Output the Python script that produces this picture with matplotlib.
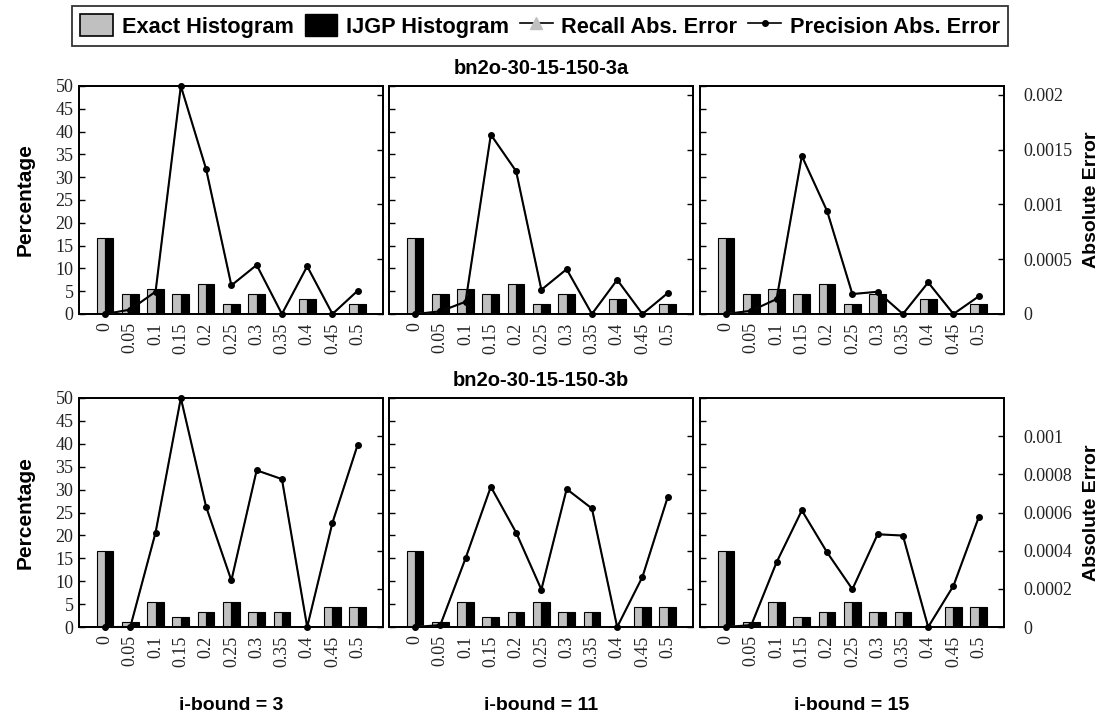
import matplotlib
matplotlib.use("Agg")
import matplotlib.pyplot as plt
from matplotlib.patches import Patch
from matplotlib.lines import Line2D

# Error-threshold bins on the x axis
bins = ["0", "0.05", "0.1", "0.15", "0.2", "0.25", "0.3", "0.35", "0.4", "0.45", "0.5"]

# Histogram percentages per network (exact and IJGP coincide)
exact_3a = [16.67, 4.44, 5.56, 4.44, 6.67, 2.22, 4.44, 0.0, 3.33, 0.0, 2.22]
ijgp_3a = [16.67, 4.44, 5.56, 4.44, 6.67, 2.22, 4.44, 0.0, 3.33, 0.0, 2.22]
exact_3b = [16.67, 1.11, 5.56, 2.22, 3.33, 5.56, 3.33, 3.33, 0.0, 4.44, 4.44]
ijgp_3b = [16.67, 1.11, 5.56, 2.22, 3.33, 5.56, 3.33, 3.33, 0.0, 4.44, 4.44]

# Precision absolute error, one list per i-bound
prec_3a_i3 = [0.0, 0.00004, 0.000204, 0.00208, 0.001322, 0.000261, 0.000447, 0.0, 0.000435, 0.0, 0.000213]
prec_3a_i11 = [0.0, 0.000024, 0.000112, 0.001636, 0.001303, 0.000221, 0.000409, 0.0, 0.000312, 0.0, 0.000191]
prec_3a_i15 = [0.0, 0.00003, 0.000136, 0.001442, 0.000939, 0.000182, 0.000203, 0.0, 0.000288, 0.0, 0.000161]
prec_3b_i3 = [0.0, 0.0, 0.000495, 0.0012, 0.00063, 0.000244, 0.000821, 0.000775, 0.0, 0.000547, 0.000956]
prec_3b_i11 = [0.0, 0.00001, 0.00036, 0.000735, 0.000495, 0.000196, 0.000723, 0.000621, 0.0, 0.000263, 0.000681]
prec_3b_i15 = [0.0, 0.00001, 0.000339, 0.000611, 0.000391, 0.000198, 0.000486, 0.000479, 0.0, 0.000216, 0.000575]

# Recall absolute error follows precision exactly here
recall_3a = [prec_3a_i3, prec_3a_i11, prec_3a_i15]
recall_3b = [prec_3b_i3, prec_3b_i11, prec_3b_i15]

networks = ["bn2o-30-15-150-3a", "bn2o-30-15-150-3b"]
ibounds = ["i-bound = 3", "i-bound = 11", "i-bound = 15"]

rows = [
    dict(exact=exact_3a, ijgp=ijgp_3a, prec=[prec_3a_i3, prec_3a_i11, prec_3a_i15],
         recall=recall_3a, emax=0.00208,
         eticks=[0, 0.0005, 0.001, 0.0015, 0.002],
         elabels=["0", "0.0005", "0.001", "0.0015", "0.002"]),
    dict(exact=exact_3b, ijgp=ijgp_3b, prec=[prec_3b_i3, prec_3b_i11, prec_3b_i15],
         recall=recall_3b, emax=0.0012,
         eticks=[0, 0.0002, 0.0004, 0.0006, 0.0008, 0.001],
         elabels=["0", "0.0002", "0.0004", "0.0006", "0.0008", "0.001"]),
]

plt.rcParams["font.family"] = "serif"
plt.rcParams["font.serif"] = ["Liberation Serif", "DejaVu Serif"]

W, H = 1103, 720
fig = plt.figure(figsize=(W / 100, H / 100), dpi=100)
fig.patch.set_facecolor("white")

SANS = ["Liberation Sans", "DejaVu Sans"]
GREY = "#c0c0c0"
TICKC = "#222222"
TICKFS = 13

col_x = [79, 389, 700]
col_w = 304
row_y = [(86, 314), (398, 627)]

x = list(range(len(bins)))
bw = 0.33

for r, row in enumerate(rows):
    top, bot = row_y[r]
    for c in range(3):
        ax = fig.add_axes([col_x[c] / W, 1 - bot / H, col_w / W, (bot - top) / H])
        ax.bar([i - bw for i in x], row["exact"], width=bw, align="edge",
               color=GREY, edgecolor="black", linewidth=0.8, zorder=2)
        ax.bar(x, row["ijgp"], width=bw, align="edge",
               color="black", edgecolor="black", linewidth=0.8, zorder=2)
        ax.set_xlim(-1.03, 11.0)
        ax.set_ylim(0, 50)
        ax.set_yticks(range(0, 51, 5))
        ax.set_xticks(x)
        ax.set_xticklabels(bins, rotation=90, fontsize=TICKFS, color=TICKC)
        if c == 0:
            ax.set_yticklabels([str(v) for v in range(0, 51, 5)], fontsize=TICKFS, color=TICKC)
        else:
            ax.set_yticklabels([])
        ax.tick_params(axis="y", direction="in", length=4, width=1, pad=4)
        ax.tick_params(axis="x", length=0, pad=6)
        for s in ax.spines.values():
            s.set_linewidth(1.3)

        ax2 = ax.twinx()
        ax2.plot(x, row["recall"][c], color="#999999", lw=1.0, marker="^",
                 markersize=2.5, zorder=3)
        ax2.plot(x, row["prec"][c], color="black", lw=1.5, marker="o",
                 markersize=4, zorder=4, clip_on=False)
        ax2.set_xlim(-1.03, 11.0)
        ax2.set_ylim(0, row["emax"])
        ax2.set_yticks(row["eticks"])
        if c == 2:
            ax2.set_yticklabels(row["elabels"], fontsize=TICKFS, color=TICKC)
        else:
            ax2.set_yticklabels([])
        ax2.tick_params(axis="y", direction="in", length=4, width=1, pad=14)
        for s in ax2.spines.values():
            s.set_linewidth(1.3)

    yc = 1 - (top + bot) / 2 / H
    fig.text(25 / W, yc, "Percentage", rotation=90, ha="center", va="center",
             fontfamily=SANS, fontweight="bold", fontsize=15)
    fig.text(1092 / W, yc, "Absolute Error", rotation=90, ha="center", va="center",
             fontfamily=SANS, fontweight="bold", fontsize=14)
    fig.text(541 / W, 1 - (top - 18) / H, networks[r], ha="center", va="center",
             fontfamily=SANS, fontweight="bold", fontsize=14.5)

for c in range(3):
    fig.text((col_x[c] + col_w / 2) / W, 1 - 705 / H, ibounds[c], ha="center", va="center",
             fontfamily=SANS, fontweight="bold", fontsize=14)

handles = [
    Patch(facecolor=GREY, edgecolor="black", linewidth=1.2),
    Patch(facecolor="black", edgecolor="black"),
    Line2D([], [], color="black", lw=1.2, marker="^", markersize=9,
           markerfacecolor=GREY, markeredgecolor=GREY),
    Line2D([], [], color="black", lw=1.2, marker="o", markersize=4,
           markerfacecolor="black"),
]
labels = ["Exact Histogram", "IJGP Histogram", "Recall Abs. Error", "Precision Abs. Error"]
leg = fig.legend(handles, labels, loc="center", bbox_to_anchor=(540 / W, 1 - 26 / H),
                 ncol=4, frameon=True, fancybox=False, edgecolor="black",
                 prop=dict(family=SANS, weight="bold", size=15.7),
                 handlelength=1.5, handleheight=1.15, handletextpad=0.4,
                 columnspacing=0.5, borderpad=0.38)
leg.get_frame().set_linewidth(1.3)

fig.savefig("out.png", dpi=100, facecolor="white")
